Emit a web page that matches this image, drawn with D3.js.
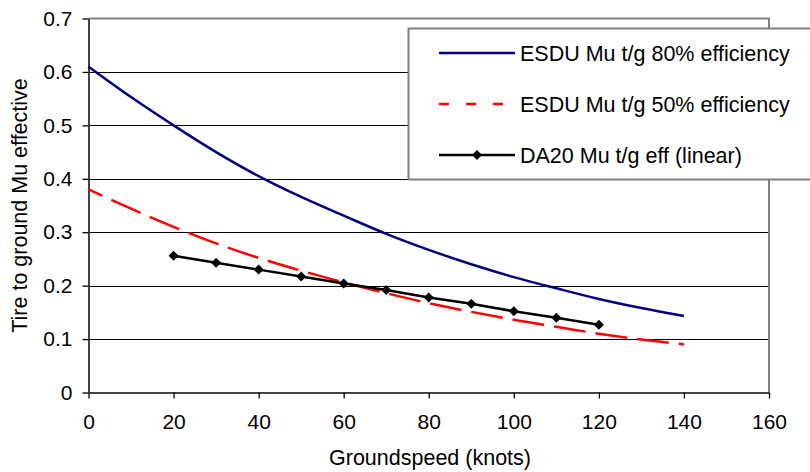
<!DOCTYPE html>
<html>
<head>
<meta charset="utf-8">
<script src="https://cdn.jsdelivr.net/npm/d3@7"></script>
<style>
  body { margin: 0; background: #fff; }
  svg text { font-family: "Liberation Sans", Arial, sans-serif; fill: #000; }
</style>
</head>
<body>
<svg id="chart" width="810" height="472"></svg>
<script>
// values
let speeds = [0, 10, 20, 30, 40, 50, 60, 70, 80, 90, 100, 110, 120, 130, 140];
let esdu80 = [0.61, 0.553, 0.50, 0.45, 0.405, 0.366, 0.331, 0.297, 0.267, 0.240, 0.216, 0.195, 0.175, 0.158, 0.143];
let esdu50 = [0.38, 0.344, 0.31, 0.279, 0.252, 0.228, 0.206, 0.186, 0.167, 0.151, 0.136, 0.123, 0.110, 0.099, 0.090];

let daSpeeds = [20, 30, 40, 50, 60, 70, 80, 90, 100, 110, 120];
let da20 = [0.256, 0.243, 0.230, 0.217, 0.204, 0.192, 0.178, 0.166, 0.152, 0.140, 0.127];

let xTicks = [0, 20, 40, 60, 80, 100, 120, 140, 160];
let yTicks = [0, 0.1, 0.2, 0.3, 0.4, 0.5, 0.6, 0.7];

let legendNames = ['ESDU Mu t/g 80% efficiency', 'ESDU Mu t/g 50% efficiency', 'DA20 Mu t/g eff (linear)'];

let svg = d3.select('#chart');

let x = d3.scaleLinear().domain([0, 160]).range([88.5, 769]);
let y = d3.scaleLinear().domain([0, 0.7]).range([392.5, 18.5]);

// gridlines
svg.append('g')
  .selectAll('line')
  .data(yTicks.filter(d => d > 0 && d < 0.7))
  .enter()
  .append('line')
  .attr('x1', x(0))
  .attr('x2', x(160))
  .attr('y1', d => Math.round(y(d)) + 0.5)
  .attr('y2', d => Math.round(y(d)) + 0.5)
  .style('stroke', '#000')
  .style('stroke-width', '1px');

// plot frame (top/right grey)
svg.append('path')
  .attr('d', `M${x(0)},${y(0.7)}H${x(160)}V${y(0)}`)
  .style('fill', 'none')
  .style('stroke', '#808080')
  .style('stroke-width', '2px');

// axes
let xAxis = d3.axisBottom(x).tickValues(xTicks).tickSize(6).tickSizeOuter(0).tickPadding(10);
let yAxis = d3.axisLeft(y).tickValues(yTicks).tickSize(6).tickSizeOuter(0).tickPadding(10)
  .tickFormat(d => d === 0 ? '0' : d3.format('.1f')(d));

let gx = svg.append('g').attr('transform', `translate(0,${y(0)})`).call(xAxis);
let gy = svg.append('g').attr('transform', `translate(${x(0)},0)`).call(yAxis);

[gx, gy].forEach(g => {
  g.select('.domain').style('stroke', '#444').style('stroke-width', '2px');
  g.selectAll('.tick line').style('stroke', '#000').style('stroke-width', '1.3px');
  g.selectAll('.tick text').style('font-size', '21px').attr('fill', '#000');
});
gx.selectAll('.tick text').attr('dy', '0.71em').attr('y', 22);
gy.selectAll('.tick text').attr('x', -16);

// axis titles
svg.append('text')
  .attr('x', 430)
  .attr('y', 465)
  .attr('text-anchor', 'middle')
  .style('font-size', '21.5px')
  .text('Groundspeed (knots)');

svg.append('text')
  .attr('transform', `translate(27,${(y(0) + y(0.7)) / 2}) rotate(-90)`)
  .attr('text-anchor', 'middle')
  .style('font-size', '21.5px')
  .text('Tire to ground Mu effective');

// lines
let line = d3.line()
  .x(d => x(d[0]))
  .y(d => y(d[1]))
  .curve(d3.curveMonotoneX);

svg.append('path')
  .datum(speeds.map((s, i) => [s, esdu80[i]]))
  .attr('d', line)
  .style('fill', 'none')
  .style('stroke', '#000080')
  .style('stroke-width', '2.5px');

svg.append('path')
  .datum(speeds.map((s, i) => [s, esdu50[i]]))
  .attr('d', line)
  .style('fill', 'none')
  .style('stroke', '#ff0000')
  .style('stroke-width', '2.5px')
  .style('stroke-dasharray', '32,10')
  .style('stroke-dashoffset', 17);

let daPts = daSpeeds.map((s, i) => [s, da20[i]]);

svg.append('path')
  .datum(daPts)
  .attr('d', d3.line().x(d => x(d[0])).y(d => y(d[1])))
  .style('fill', 'none')
  .style('stroke', '#000')
  .style('stroke-width', '2.5px');

let diamond = (cx, cy, r) => `M${cx},${cy - r}L${cx + r},${cy}L${cx},${cy + r}L${cx - r},${cy}Z`;

svg.append('g')
  .selectAll('path')
  .data(daPts)
  .enter()
  .append('path')
  .attr('d', d => diamond(x(d[0]), y(d[1]), 5))
  .style('fill', '#000');

// legend
let lg = svg.append('g');
lg.append('rect')
  .attr('x', 408.5)
  .attr('y', 28.5)
  .attr('width', 420)
  .attr('height', 151)
  .style('fill', '#fff')
  .style('stroke', '#808080')
  .style('stroke-width', '2px');

let rowY = [53, 104, 155];
let styles = [
  {stroke: '#000080', dash: null},
  {stroke: '#ff0000', dash: '10,17'},
  {stroke: '#000', dash: null}
];

legendNames.forEach((name, i) => {
  lg.append('line')
    .attr('x1', 439)
    .attr('x2', 515)
    .attr('y1', rowY[i])
    .attr('y2', rowY[i])
    .style('stroke', styles[i].stroke)
    .style('stroke-width', '2.5px')
    .style('stroke-dasharray', styles[i].dash);
  if (i === 2) {
    lg.append('path').attr('d', diamond(477, rowY[i], 5)).style('fill', '#000');
  }
  lg.append('text')
    .attr('x', 520)
    .attr('y', rowY[i])
    .attr('dy', '0.36em')
    .style('font-size', '21.5px')
    .text(name);
});
</script>
</body>
</html>
